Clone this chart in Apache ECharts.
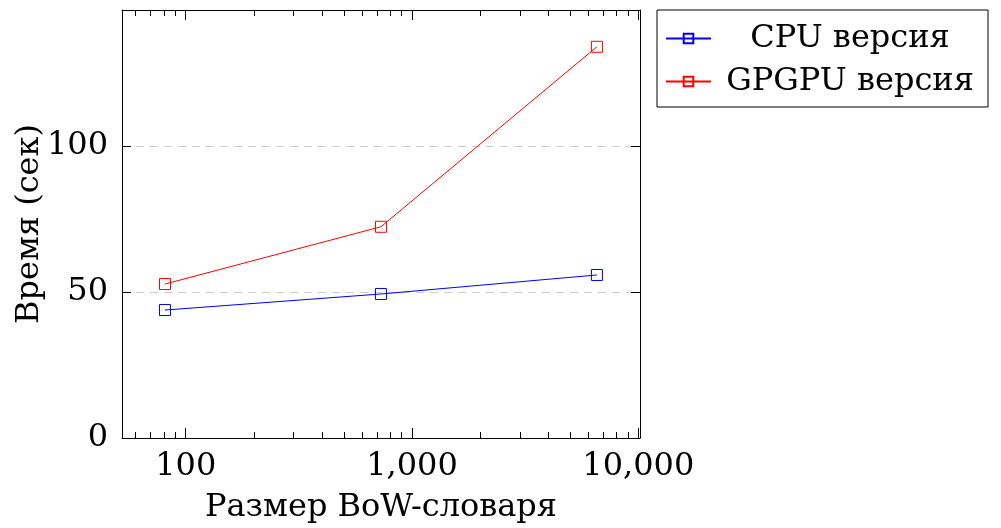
<!DOCTYPE html>
<html lang="ru">
<head>
<meta charset="UTF-8">
<title>Время от размера BoW-словаря</title>
<script src="https://cdn.jsdelivr.net/npm/echarts@6/dist/echarts.min.js"></script>
</head>
<body style="margin:0;background:#fff">
<div id="main" style="width:1001px;height:528px;"></div>
<script>
// данные с графика
var bowSizes = [81, 729, 6561];
var cpuTimes = [43.8, 49.3, 55.8];
var gpuTimes = [52.7, 72.3, 133.9];
var seriesNames = ['CPU версия', 'GPGPU версия'];
var majorTicksX = [100, 1000, 10000];
var minorTicksX = [60, 70, 80, 90, 200, 300, 400, 500, 600, 700, 800, 900,
                   2000, 3000, 4000, 5000, 6000, 7000, 8000, 9000];
var ticksY = [0, 50, 100];

var font = "'DejaVu Serif', serif";
var xMin = 52.3, xMax = 10170;
var yMax = 146.5;

function pairs(xs, ys) {
    return xs.map(function (x, i) { return [x, ys[i]]; });
}

function logAxis(pos, ticks, len, withLine, withLabel) {
    return {
        type: 'log',
        position: pos,
        min: xMin,
        max: xMax,
        axisLine: {show: withLine, lineStyle: {color: '#000', width: 1}},
        axisTick: {show: true, inside: true, length: len, customValues: ticks,
                   lineStyle: {color: '#000', width: 1}},
        axisLabel: withLabel ? {show: true, customValues: majorTicksX, margin: 13,
                   color: '#000', fontFamily: font, fontSize: 32} : {show: false},
        splitLine: {show: false}
    };
}

var myChart = echarts.init(document.getElementById('main'));

var option = {
    animation: false,
    backgroundColor: '#fff',
    grid: {left: 122, top: 10, width: 518, height: 428, outerBoundsMode: 'none'},
    legend: {
        left: 657, top: 10,
        orient: 'vertical',
        padding: [7, 4, 4, 8],
        itemGap: 0,
        itemWidth: 45,
        itemHeight: 12,
        borderColor: '#000',
        borderWidth: 1,
        formatter: function (name) { return '{t|' + name + '}'; },
        textStyle: {
            color: '#000', fontFamily: font, fontSize: 32, lineHeight: 43,
            rich: {t: {width: 268, align: 'center', fontFamily: font, fontSize: 32, lineHeight: 43}}
        },
        data: seriesNames
    },
    xAxis: [
        Object.assign(logAxis('bottom', majorTicksX, 10, true, true), {
            name: 'Размер BoW-словаря',
            nameLocation: 'middle',
            nameGap: 54,
            nameTextStyle: {color: '#000', fontFamily: font, fontSize: 32}
        }),
        logAxis('bottom', minorTicksX, 6, false, false),
        logAxis('top', majorTicksX, 10, true, false),
        logAxis('top', minorTicksX, 6, false, false)
    ],
    yAxis: [
        {
            type: 'value', position: 'left',
            min: 0, max: yMax,
            name: 'Время (сек)',
            nameLocation: 'middle',
            nameGap: 76,
            nameMoveOverlap: false,
            nameTextStyle: {color: '#000', fontFamily: font, fontSize: 32},
            axisLine: {show: true, lineStyle: {color: '#000', width: 1}},
            axisTick: {inside: true, length: 9, customValues: ticksY, lineStyle: {color: '#000'}},
            axisLabel: {customValues: ticksY, margin: 14, color: '#000', fontFamily: font, fontSize: 32},
            splitLine: {show: true, lineStyle: {color: '#cccccc', type: [8, 6], width: 1}}
        },
        {
            type: 'value', position: 'right',
            min: 0, max: yMax,
            axisLine: {show: true, lineStyle: {color: '#000', width: 1}},
            axisTick: {inside: true, length: 9, customValues: ticksY, lineStyle: {color: '#000'}},
            axisLabel: {show: false},
            splitLine: {show: false}
        }
    ],
    series: [
        {
            name: seriesNames[0],
            type: 'line',
            data: pairs(bowSizes, cpuTimes),
            symbol: 'rect',
            symbolSize: 11,
            lineStyle: {color: '#0000ff', width: 1},
            itemStyle: {color: 'rgba(255,255,255,0)', borderColor: '#0000ff', borderWidth: 1}
        },
        {
            name: seriesNames[1],
            type: 'line',
            data: pairs(bowSizes, gpuTimes),
            symbol: 'rect',
            symbolSize: 11,
            lineStyle: {color: '#ff0000', width: 1},
            itemStyle: {color: 'rgba(255,255,255,0)', borderColor: '#ff0000', borderWidth: 1}
        }
    ]
};

myChart.setOption(option);
</script>
</body>
</html>
